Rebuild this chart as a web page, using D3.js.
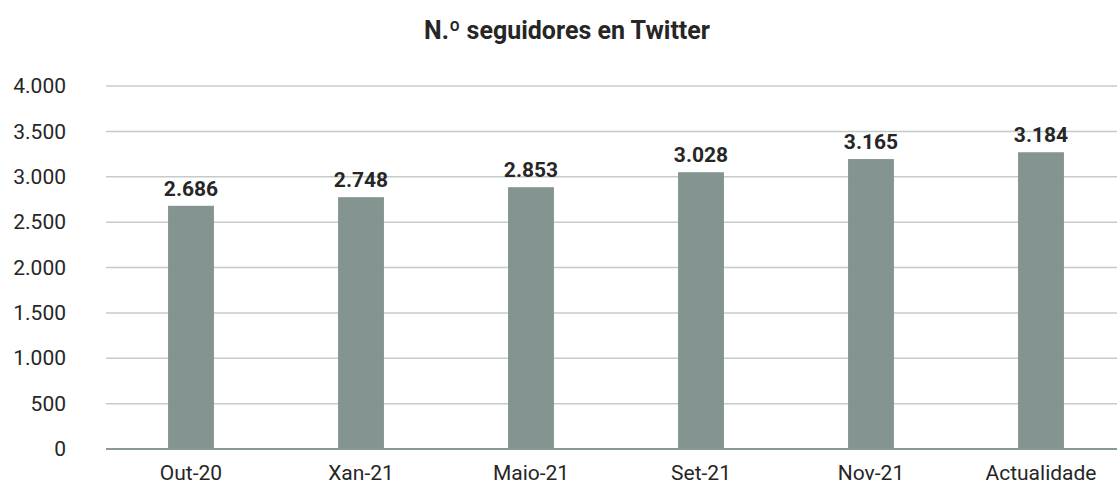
<!DOCTYPE html>
<html>
<head>
<meta charset="utf-8">
<script src="https://cdn.jsdelivr.net/npm/d3@7"></script>
<style>
  body { margin: 0; background: #fff; }
  svg { display: block; font-family: Roboto, "Noto Sans", sans-serif; }
</style>
</head>
<body>
<svg id="chart"></svg>
<script>
// =====================
// Data
// =====================
const periods = ['Out-20', 'Xan-21', 'Maio-21', 'Set-21', 'Nov-21', 'Actualidade'];
const followers = [2686, 2748, 2853, 3028, 3165, 3184];   // printed labels
const barHeights = [2680, 2775, 2885, 3050, 3195, 3270];  // bar tops as drawn
const yTicks = [0, 500, 1000, 1500, 2000, 2500, 3000, 3500, 4000];
const title = 'N.º seguidores en Twitter';

const
  width = 1117,
  height = 484,
  plotLeft = 106,
  plotRight = 1126,
  plotTop = 86,
  plotBottom = 449;

const fmt = d3.formatLocale({ decimal: ',', thousands: '.', grouping: [3], currency: ['', '€'] }).format(',d');

const svg = d3.select('#chart')
  .attr('width', width)
  .attr('height', height);

// Scales
const x = d3.scaleBand(periods, [plotLeft, plotRight])
  .paddingInner(0.73)
  .paddingOuter(0.365);
const y = d3.scaleLinear([0, 4000], [plotBottom, plotTop]);

// Title
svg.append('text')
  .attr('x', 567)
  .attr('y', 39)
  .attr('text-anchor', 'middle')
  .style('font-size', '25px')
  .style('font-weight', 'bold')
  .style('fill', '#262626')
  .text(title);

// Gridlines
svg.append('g')
  .selectAll('line')
  .data(yTicks.filter(d => d > 0))
  .join('line')
  .attr('x1', plotLeft)
  .attr('x2', plotRight)
  .attr('y1', d => y(d))
  .attr('y2', d => y(d))
  .style('stroke', '#c3ccc9')
  .style('stroke-width', 1.5);

// Y axis labels
const yAxis = d3.axisLeft(y).tickValues(yTicks).tickFormat(fmt).tickSize(0).tickPadding(0);
svg.append('g')
  .attr('transform', 'translate(66,0)')
  .call(yAxis)
  .call(g => g.select('.domain').remove())
  .selectAll('text')
  .style('font-size', '21px')
  .style('font-family', 'Roboto, sans-serif')
  .style('fill', '#262626');

// Bars
svg.append('g')
  .selectAll('rect')
  .data(periods)
  .join('rect')
  .attr('x', d => x(d))
  .attr('width', x.bandwidth())
  .attr('y', (d, i) => y(barHeights[i]))
  .attr('height', (d, i) => y(0) - y(barHeights[i]))
  .style('fill', '#849591');

// Value labels
svg.append('g')
  .selectAll('text')
  .data(periods)
  .join('text')
  .attr('x', d => x(d) + x.bandwidth() / 2)
  .attr('y', (d, i) => y(barHeights[i]) - 10)
  .attr('text-anchor', 'middle')
  .style('font-size', '21px')
  .style('font-weight', 'bold')
  .style('fill', '#262626')
  .text((d, i) => fmt(followers[i]));

// X axis
const xAxis = d3.axisBottom(x).tickSize(0).tickPadding(0);
svg.append('g')
  .attr('transform', 'translate(0,' + plotBottom + ')')
  .call(xAxis)
  .call(g => g.select('.domain').remove())
  .selectAll('text')
  .attr('dy', null)
  .attr('y', 31)
  .style('font-size', '21px')
  .style('font-family', 'Roboto, sans-serif')
  .style('fill', '#262626');

svg.append('line')
  .attr('x1', plotLeft)
  .attr('x2', plotRight)
  .attr('y1', plotBottom)
  .attr('y2', plotBottom)
  .style('stroke', '#8a9a96')
  .style('stroke-width', 2);
</script>
</body>
</html>
